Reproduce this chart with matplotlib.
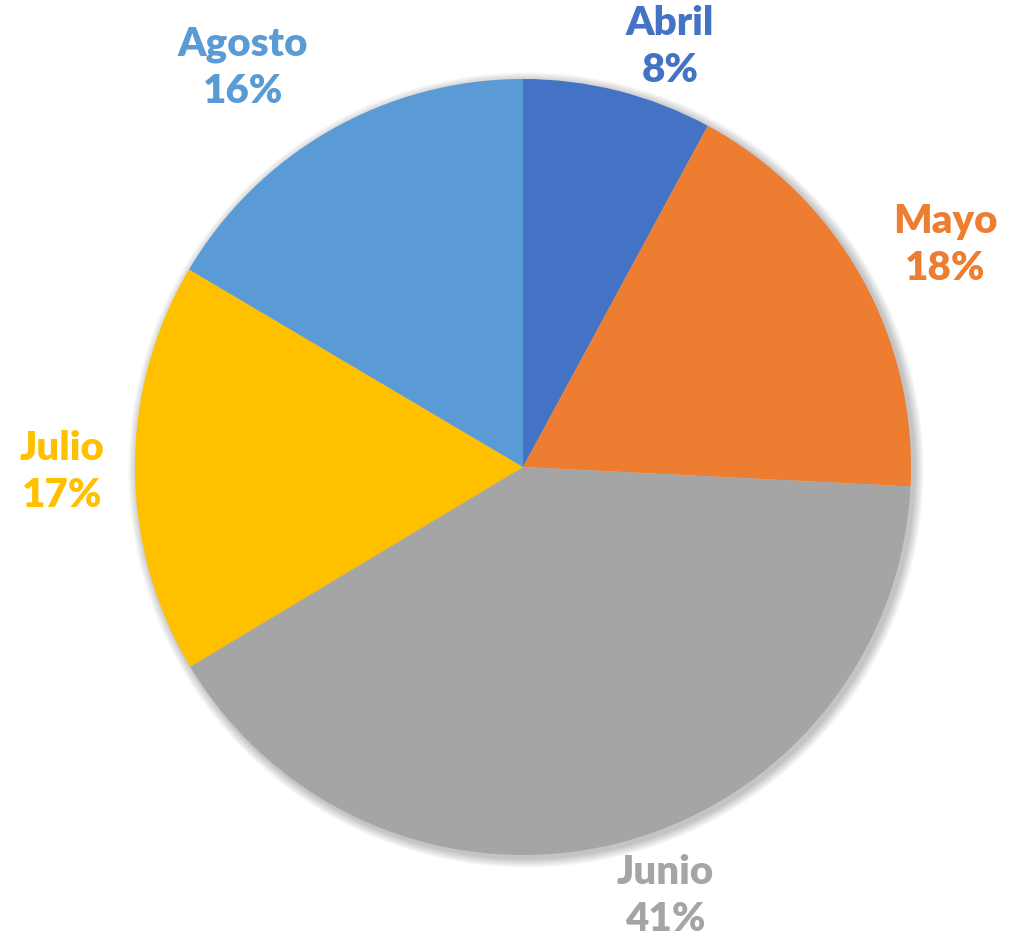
import matplotlib.pyplot as plt
from matplotlib.patches import Circle

months = ['Abril', 'Mayo', 'Junio', 'Julio', 'Agosto']
shares = [7.9, 17.9, 40.6, 17.1, 16.5]
pct_labels = ['8%', '18%', '41%', '17%', '16%']
colors = ['#4472C4', '#ED7D31', '#A5A5A5', '#FFC000', '#5B9BD5']

# label centres in image pixels (x, y from top)
label_pos = [(670, 47), (945, 245), (665, 896), (62, 472), (243, 68)]

W, H = 1014, 937
fig = plt.figure(figsize=(W / 100, H / 100), dpi=100)
ax = fig.add_axes([0, 0, 1, 1])

cx, cy, r = 523, H - 468, 388

# soft shadow behind the pie
for k in range(12):
    ax.add_patch(Circle((cx + 3, cy - 3), r + 1 + k * 0.8, color='black',
                        alpha=0.018, lw=0, zorder=0))

ax.pie(shares, colors=colors, startangle=90, counterclock=False,
       center=(cx, cy), radius=r, frame=True,
       wedgeprops=dict(linewidth=0))
ax.set_xlim(0, W)
ax.set_ylim(0, H)
ax.axis('off')

for m, p, c, (x, y) in zip(months, pct_labels, colors, label_pos):
    ax.text(x, H - y, m + '\n' + p, color=c, ha='center', va='center',
            fontsize=29, fontweight='heavy', family=['Lato', 'DejaVu Sans'],
            linespacing=1.35)

plt.savefig('out.png', dpi=100)
